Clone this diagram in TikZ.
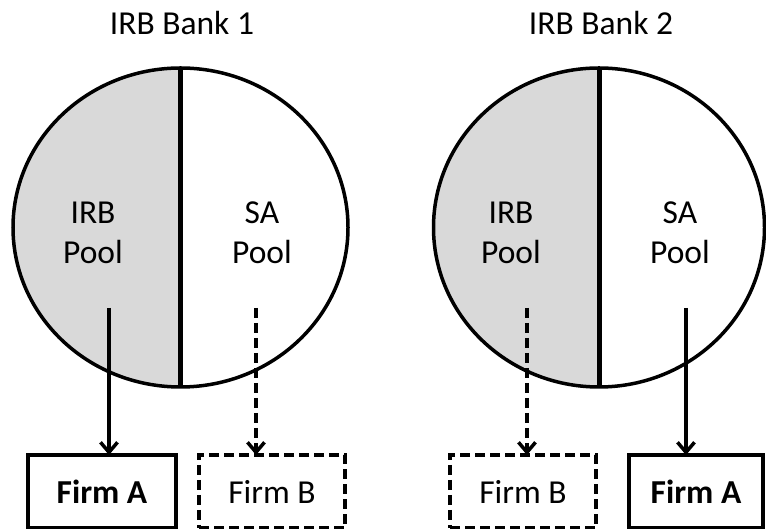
\documentclass[tikz,border=0pt]{standalone}
\usepackage{fontspec}
\setmainfont{Carlito}
\usetikzlibrary{arrows.meta, shapes.geometric, positioning, calc}

\definecolor{poolgray}{RGB}{217,217,217}

\begin{document}
\begin{tikzpicture}
  [
    x=1pt, y=1pt,
    every node/.style={font=\fontsize{33.5}{40}\selectfont},
    align=center
  ]
      \tikzset{
        >={Straight Barb[length=10pt,width=17pt]},
        base/.style = {draw=black, inner sep=0pt, outer sep=0pt},
        bankstyle/.style = {base, ellipse, line width=3.5pt,
                            minimum width=335pt, minimum height=319pt},
        poolfill/.style = {fill=poolgray},
        divider/.style = {line width=5pt},
        firmstyle/.style = {base, rectangle, line width=4.5pt, minimum height=73pt},
        mainfirm/.style = {firmstyle, font=\fontsize{33.5}{40}\selectfont\bfseries},
        otherfirm/.style = {firmstyle, dash pattern=on 10pt off 5pt},
        flow/.style = {->, line width=3.5pt},
        dashedflow/.style = {flow, dash pattern=on 10pt off 5pt},
    }
    \pgfdeclarelayer{poollayer}
    \pgfsetlayers{poollayer,main}

    \useasboundingbox (0,0) rectangle (766,529);

    % bank 1
    \node (title1) at (182,506) {IRB Bank 1};
    \node (bank1) [bankstyle] at (180.5,301.5) {};
    \begin{pgfonlayer}{poollayer}
        \fill[poolfill] (bank1.north) arc[start angle=90, end angle=270, x radius=167.5, y radius=159.5] -- cycle;
    \end{pgfonlayer}
    \draw[divider] (bank1.north) -- (bank1.south);
    \node (irb1) at (93,296) {IRB\\Pool};
    \node (sa1) at (262,296) {SA\\Pool};

    % bank 2
    \node (title2) at (601,506) {IRB Bank 2};
    \node (bank2) [bankstyle, minimum width=331pt] at (599,301.5) {};
    \begin{pgfonlayer}{poollayer}
        \fill[poolfill] (bank2.north) arc[start angle=90, end angle=270, x radius=165.5, y radius=159.5] -- cycle;
    \end{pgfonlayer}
    \draw[divider] (bank2.north) -- (bank2.south);
    \node (irb2) at (511,296) {IRB\\Pool};
    \node (sa2) at (680,296) {SA\\Pool};

    % firms
    \node (firmA1) [mainfirm, minimum width=148pt] at (102,37.5) {Firm A};
    \node (firmB1) [otherfirm, minimum width=146pt] at (272,37.5) {Firm B};
    \node (firmB2) [otherfirm, minimum width=146pt] at (523,37.5) {Firm B};
    \node (firmA2) [mainfirm, minimum width=134pt] at (696,37.5) {Firm A};

    \coordinate (irbout1) at (109,221);
    \coordinate (saout1) at (256,221);
    \coordinate (irbout2) at (527,221);
    \coordinate (saout2) at (686,221);

    \draw[flow] (irbout1) -- (irbout1 |- firmA1.north);
    \draw[dashedflow] (saout1) -- (saout1 |- firmB1.north);
    \draw[dashedflow] (irbout2) -- (irbout2 |- firmB2.north);
    \draw[flow] (saout2) -- (saout2 |- firmA2.north);
\end{tikzpicture}
\end{document}
